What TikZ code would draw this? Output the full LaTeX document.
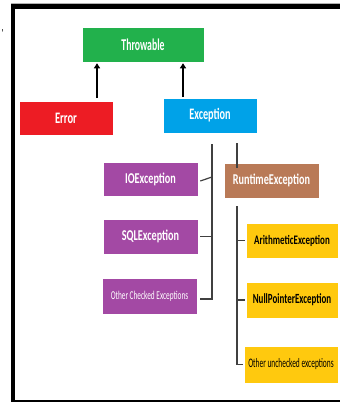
\documentclass[tikz,border=0pt]{standalone}
\usepackage{fontspec}
\usepackage{graphicx}
\setmainfont{Carlito}
\usetikzlibrary{arrows.meta}
\definecolor{cgreen}{HTML}{22B14C}
\definecolor{cred}{HTML}{ED1C24}
\definecolor{cblue}{HTML}{00A2E8}
\definecolor{cpurple}{HTML}{A349A4}
\definecolor{cbrown}{HTML}{B97A57}
\definecolor{cyellow}{HTML}{FFC90E}
\definecolor{cline}{HTML}{404040}
\newcommand{\tx}[3]{\scalebox{#2}[1]{\fontsize{#1}{#1}\selectfont #3}}
\tikzset{
  box/.style={inner sep=0pt, draw=white, line width=0.5pt, text=white},
  conn/.style={draw=cline, line width=1.2pt},
  arr/.style={draw=black, line width=2pt, -{Triangle[width=6pt,length=5pt]}},
}
\begin{document}
\begin{tikzpicture}[x=1pt,y=-1pt]
\useasboundingbox (0,0) rectangle (340,402);
% frame
\draw[line width=5pt] (11,6.5) -- (340,6.5);
\draw[black!30, line width=0.6pt] (11,3.5) -- (340,3.5);
\draw[line width=4pt] (13,4) -- (13,402);
\draw[line width=1.5pt] (11,401) -- (340,401);
\node[inner sep=0pt] (mark) at (2.5,33) {\fontsize{10}{10}\selectfont ’};
% boxes
\node[box, fill=cgreen, minimum width=122, minimum height=35] (thr) at (143,44.5) {\tx{16.5}{0.59}{\bfseries Throwable}};
\node[box, fill=cred, minimum width=94, minimum height=34] (err) at (66,118) {\tx{16}{0.66}{\bfseries Error}};
\node[box, fill=cblue, minimum width=94, minimum height=35] (exc) at (210,115.5) {\tx{16}{0.64}{\bfseries Exception}};
\node[box, fill=cpurple, minimum width=95, minimum height=34] (io) at (150.5,179) {\tx{15}{0.68}{\bfseries IOException}};
\node[box, fill=cpurple, minimum width=95, minimum height=35] (sql) at (150.5,236.5) {\tx{15}{0.68}{\bfseries SQLException}};
\node[box, fill=cpurple, minimum width=95, minimum height=36] (oce) at (149.5,296) {\tx{12}{0.61}{Other Checked Exceptions}};
\node[box, fill=cbrown, minimum width=95, minimum height=35] (rt) at (271.5,180.5) {\tx{15}{0.68}{\bfseries RuntimeException}};
\node[box, fill=cyellow, text=black, minimum width=92, minimum height=35] (ari) at (292,240.5) {\tx{13}{0.69}{\bfseries ArithmeticException}};
\node[box, fill=cyellow, text=black, minimum width=92, minimum height=36] (npe) at (292,300) {\tx{14}{0.64}{\bfseries NullPointerException}};
\node[box, fill=cyellow, text=black, minimum width=94, minimum height=37] (oue) at (291,364.5) {\tx{13}{0.57}{Other unchecked exceptions}};
% arrows
\coordinate (ea) at (97,98);
\coordinate (xa) at (183,97);
\draw[arr] (ea) -- ([yshift=-1]ea |- thr.south);
\draw[arr] (xa) -- ([yshift=-1]xa |- thr.south);
% checked branch
\coordinate (c1) at (212,144);
\coordinate (c1b) at (212,299);
\draw[conn] (c1) -- (c1b) -- ([xshift=3]oce.east |- c1b);
\draw[conn] (c1 |- io.east) ++(0,-2) -- ([xshift=2,yshift=-2]io.east);
\draw[conn] (c1 |- sql.east) -- ([xshift=2]sql.east);
% unchecked branch
\coordinate (c2) at (237,143);
\coordinate (c2b) at (237,206);
\draw[conn] (c2) -- ([yshift=-5]c2 |- rt.north);
\draw[conn] (c2b) |- ([xshift=-0.5]oue.west);
\draw[conn] (c2b |- ari.west) -- ([xshift=-1]ari.west);
\draw[conn] (c2b |- npe.west) -- ([xshift=-1]npe.west);
\end{tikzpicture}
\end{document}
